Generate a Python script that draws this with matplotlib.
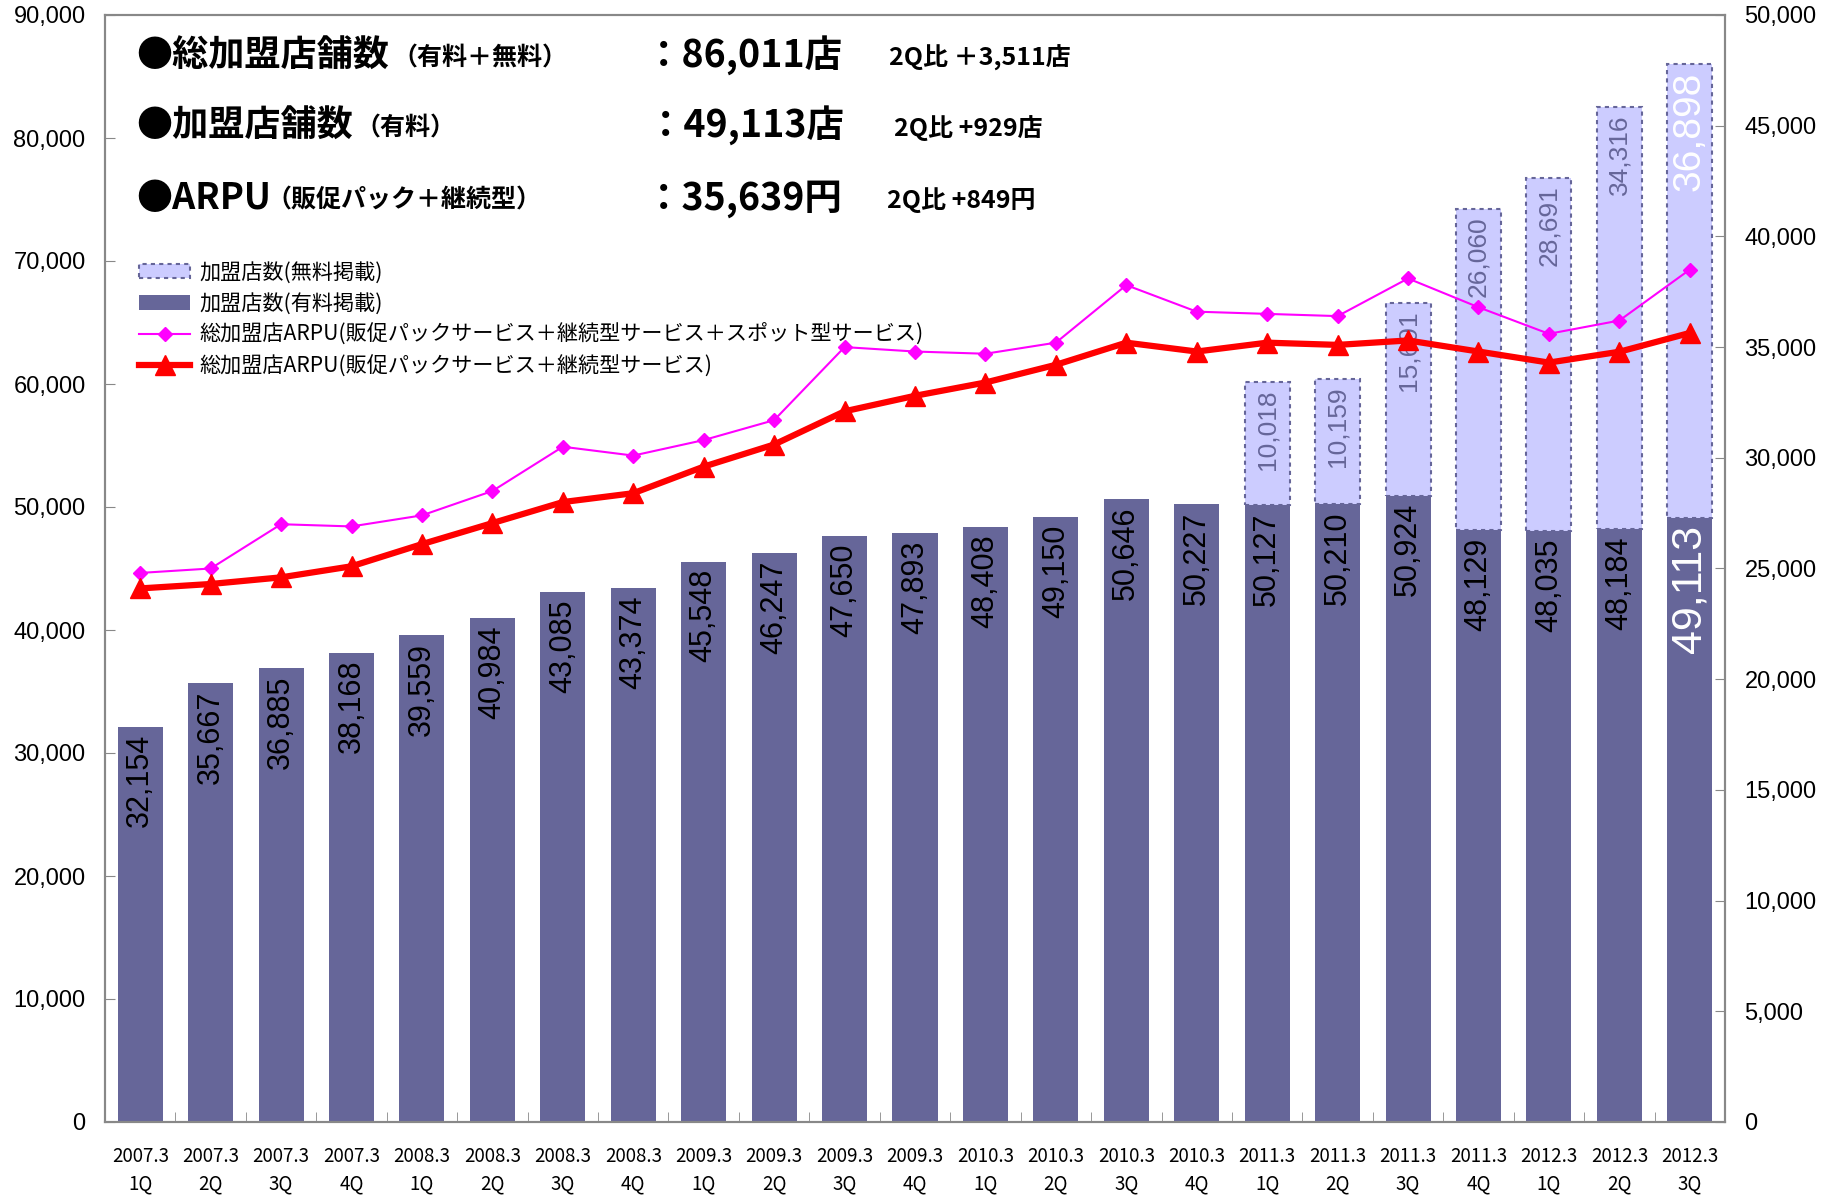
import matplotlib.pyplot as plt
import numpy as np
from matplotlib.patches import Patch
from matplotlib.lines import Line2D
from matplotlib.ticker import FuncFormatter, MultipleLocator

plt.rcParams['font.family'] = ['Noto Sans CJK JP', 'DejaVu Sans']

# data
years = ['2007.3'] * 4 + ['2008.3'] * 4 + ['2009.3'] * 4 + ['2010.3'] * 4 + ['2011.3'] * 4 + ['2012.3'] * 3
quarters = ['1Q', '2Q', '3Q', '4Q'] * 5 + ['1Q', '2Q', '3Q']
paid = [32154, 35667, 36885, 38168, 39559, 40984, 43085, 43374, 45548, 46247, 47650, 47893,
        48408, 49150, 50646, 50227, 50127, 50210, 50924, 48129, 48035, 48184, 49113]
free = [0] * 16 + [10018, 10159, 15691, 26060, 28691, 34316, 36898]
arpu_all = [24800, 25000, 27000, 26900, 27400, 28500, 30500, 30100, 30800, 31700, 35000, 34800,
            34700, 35200, 37800, 36600, 36500, 36400, 38100, 36800, 35600, 36200, 38500]
arpu_main = [24100, 24300, 24600, 25100, 26100, 27050, 28000, 28400, 29600, 30600, 32100, 32800,
             33400, 34200, 35200, 34800, 35200, 35100, 35300, 34800, 34300, 34790, 35639]

legend_labels = ['加盟店数(無料掲載)', '加盟店数(有料掲載)',
                 '総加盟店ARPU(販促パックサービス＋継続型サービス＋スポット型サービス)',
                 '総加盟店ARPU(販促パックサービス＋継続型サービス)']

DARK = '#666699'
LIGHT = '#CCCCFF'
NUM = 'Liberation Sans'

fig = plt.figure(figsize=(18.29, 11.96), dpi=100)
ax = fig.add_axes([105 / 1829, 1 - 1122 / 1196, 1620 / 1829, 1107 / 1196])
ax2 = ax.twinx()

x = np.arange(len(paid))
w = 0.64
ax.bar(x, paid, width=w, color=DARK, zorder=2)
fb = ax.bar(x, free, width=w, bottom=paid, color=LIGHT, edgecolor=DARK,
            linestyle=(0, (2, 2)), linewidth=1.5, zorder=2)
for i, b in enumerate(fb):
    if free[i] == 0:
        b.set_visible(False)

# bar labels
for i in range(len(paid)):
    last = i == len(paid) - 1
    ax.text(x[i], paid[i] - 600, f'{paid[i]:,}', rotation=90, ha='center', va='top',
            fontsize=31 if last else 22, color='white' if last else 'black',
            family=NUM, zorder=3)
    if free[i]:
        ax.text(x[i], paid[i] + free[i] - 600, f'{free[i]:,}', rotation=90, ha='center', va='top',
                fontsize=28 if last else 19, color='white' if last else DARK,
                family=NUM, zorder=3)

ax2.plot(x, arpu_all, color='#FF00FF', lw=1.5, marker='D', ms=7, zorder=4)
ax2.plot(x, arpu_main, color='#FF0000', lw=4.5, marker='^', ms=15, zorder=5)

ax.set_xlim(-0.5, len(paid) - 0.5)
ax.set_ylim(0, 90000)
ax2.set_ylim(0, 50000)
ax.yaxis.set_major_locator(MultipleLocator(10000))
ax2.yaxis.set_major_locator(MultipleLocator(5000))
fmt = FuncFormatter(lambda v, p: f'{int(v):,}')
ax.yaxis.set_major_formatter(fmt)
ax2.yaxis.set_major_formatter(fmt)

ax.set_xticks(x)
ax.set_xticklabels([f'{y}\n{q}' for y, q in zip(years, quarters)], fontsize=13.5, linespacing=1.45)
ax.set_xticks(np.arange(0.5, len(paid) - 0.5), minor=True)
ax.tick_params(axis='x', which='major', length=0, pad=17)
ax.tick_params(axis='x', which='minor', direction='in', length=7, color='#888888')
ax.tick_params(axis='y', direction='in', length=7, color='#888888', pad=14, labelsize=17)
ax2.tick_params(axis='y', direction='in', length=7, color='#888888', pad=14, labelsize=17)
for lab in ax.get_yticklabels() + ax2.get_yticklabels():
    lab.set_family(NUM)

for a in (ax, ax2):
    for s in a.spines.values():
        s.set_color('#888888')
        s.set_linewidth(1.5)

# header texts
def ftxt(px, py, s, size):
    fig.text(px / 1829, 1 - py / 1196, s, fontsize=size, fontweight='bold', va='center', ha='left')

ftxt(136, 56, '●総加盟店舗数', 26)
ftxt(392, 58, '（有料＋無料）', 18)
ftxt(645, 56, '：86,011店', 27)
ftxt(889, 58, '2Q比 ＋3,511店', 18)
ftxt(136, 126, '●加盟店舗数', 26)
ftxt(355, 128, '（有料）', 18)
ftxt(647, 126, '：49,113店', 27)
ftxt(894, 128, '2Q比 +929店', 18)
ftxt(136, 198, '●ARPU', 26)
ftxt(266, 200, '（販促パック＋継続型）', 18)
ftxt(645, 198, '：35,639円', 27)
ftxt(887, 200, '2Q比 +849円', 18)

handles = [Patch(facecolor=LIGHT, edgecolor=DARK, linestyle=(0, (2, 2)), linewidth=1.5),
           Patch(facecolor=DARK),
           Line2D([], [], color='#FF00FF', lw=1.5, marker='D', ms=7),
           Line2D([], [], color='#FF0000', lw=4.5, marker='^', ms=15)]
ax2.legend(handles, legend_labels, loc='upper left', bbox_to_anchor=(0.016, 0.785), frameon=False,
           fontsize=15.2, handlelength=2.4, handletextpad=0.45, labelspacing=0.44, borderaxespad=0)

fig.savefig('out.png', dpi=100)
